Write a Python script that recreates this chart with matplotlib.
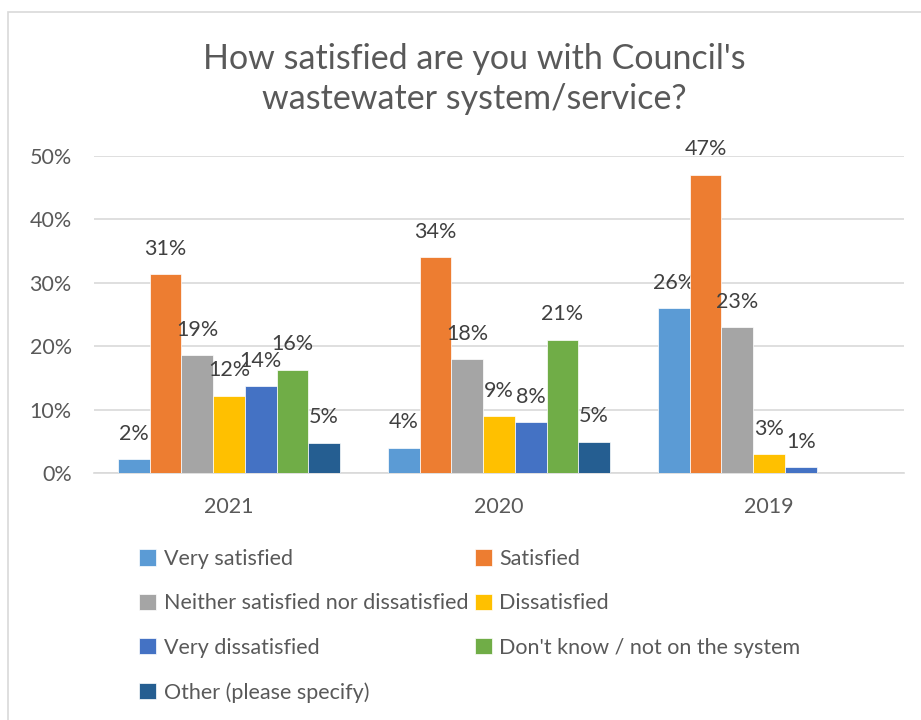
import numpy as np
import matplotlib
matplotlib.use("Agg")
import matplotlib.pyplot as plt
from matplotlib.patches import Rectangle

# survey results (share of respondents)
years = ["2021", "2020", "2019"]
responses = ["Very satisfied", "Satisfied", "Neither satisfied nor dissatisfied",
             "Dissatisfied", "Very dissatisfied", "Don't know / not on the system",
             "Other (please specify)"]
very_satisfied = [0.022, 0.04, 0.26]
satisfied = [0.313, 0.34, 0.47]
neither = [0.186, 0.18, 0.23]
dissatisfied = [0.122, 0.09, 0.03]
very_dissatisfied = [0.137, 0.08, 0.01]
dont_know = [0.163, 0.21, np.nan]
other = [0.048, 0.05, np.nan]
series = [very_satisfied, satisfied, neither, dissatisfied,
          very_dissatisfied, dont_know, other]

colors = ["#5B9BD5", "#ED7D31", "#A5A5A5", "#FFC000", "#4472C4", "#70AD47", "#255E91"]
text_col = "#595959"
label_col = "#404040"
font = ["Lato", "DejaVu Sans"]
fs = 15.5

plt.rcParams["font.family"] = font

W, H = 921, 720
fig = plt.figure(figsize=(W / 100, H / 100), dpi=100)

# chart area border
fig.patches.append(Rectangle((8 / W, -0.05), 1.1, 1 - 12 / H + 0.05,
                             transform=fig.transFigure, fill=False,
                             edgecolor="#D9D9D9", linewidth=1.2))

ax = fig.add_axes([94 / W, (H - 473.3) / H, 810 / W, (473.3 - 155.7) / H])

x = np.arange(len(years))
w = 0.1175
bars = []
for i, (vals, col) in enumerate(zip(series, colors)):
    b = ax.bar(x + (i - 3) * w, vals, w, color=col, label=responses[i],
               edgecolor="white", linewidth=0.5, zorder=3)
    bars.append(b)
    for rect, v in zip(b, vals):
        if np.isnan(v):
            continue
        ax.annotate(f"{v * 100:.0f}%", (rect.get_x() + rect.get_width() / 2, v),
                    xytext=(0, 14), textcoords="offset points",
                    ha="center", va="baseline", fontsize=fs, color=label_col)

ax.set_xlim(-0.5, 2.5)
ax.set_ylim(0, 0.5)
ax.set_yticks(np.arange(0, 0.51, 0.1))
ax.set_yticklabels([f"{t}%" for t in range(0, 51, 10)])
ax.set_xticks(x)
ax.set_xticklabels(years)
ax.tick_params(axis="both", length=0, labelsize=fs, labelcolor=text_col)
ax.tick_params(axis="y", pad=16)
ax.tick_params(axis="x", pad=17)
ax.grid(axis="y", color="#D9D9D9", linewidth=1.2, zorder=0)
for s in ["top", "right", "left"]:
    ax.spines[s].set_visible(False)
ax.spines["bottom"].set_color("#D9D9D9")
ax.spines["bottom"].set_linewidth(1.2)

fig.text(474 / W, 1 - 79 / H, "How satisfied are you with Council's\nwastewater system/service?",
         ha="center", va="center", fontsize=24.5, color=text_col, linespacing=1.3)

order = [0, 2, 4, 6, 1, 3, 5]
handles = [bars[i] for i in order]
labels = [responses[i] for i in order]
leg = fig.legend(handles, labels, ncol=2, loc="upper left",
                 bbox_to_anchor=(139 / W, 1 - 549 / H), frameon=False,
                 fontsize=fs, labelcolor=text_col, handlelength=0.8, handleheight=0.8,
                 handletextpad=0.35, columnspacing=0.3, labelspacing=1.13,
                 borderaxespad=0, borderpad=0)

fig.savefig("out.png", dpi=100)
